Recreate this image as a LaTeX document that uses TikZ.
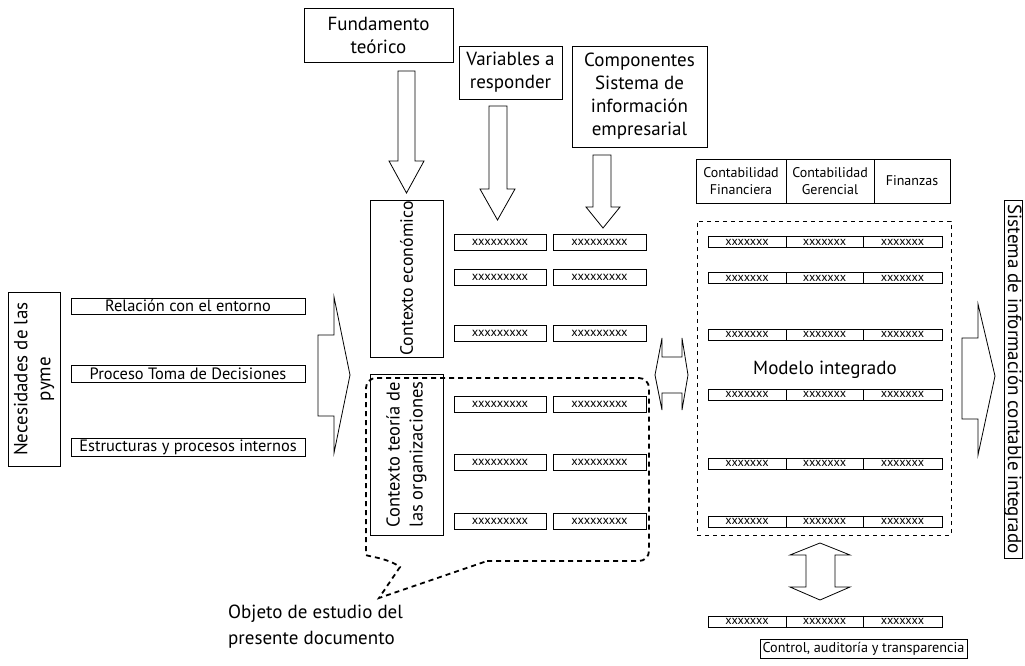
\documentclass[tikz,border=0pt]{standalone}
\usepackage{fontspec}
\setmainfont{PT Sans}
\begin{document}
\begin{tikzpicture}[x=1pt,y=-1pt,
  lbl/.style={draw, line width=0.8pt, align=center, inner sep=0pt, font=\fontsize{19}{23}\selectfont},
  sublbl/.style={draw, line width=0.8pt, align=center, inner sep=0pt, font=\fontsize{16.4}{18}\selectfont},
  hcell/.style={draw, line width=0.8pt, align=center, inner sep=0pt, minimum height=44, font=\fontsize{14}{17}\selectfont},
  lcell/.style={draw, line width=0.8pt, inner sep=0pt, minimum height=16, font=\fontsize{12.5}{12}\selectfont},
  rcell/.style={draw, line width=0.8pt, inner sep=0pt, minimum height=11, font=\fontsize{12.3}{10}\selectfont},
  barrow/.style={draw, line width=0.8pt, fill=white, line join=miter},
  callout/.style={draw, line width=1.8pt, dash pattern=on 5pt off 4pt},
  thindash/.style={draw, line width=0.8pt, dash pattern=on 4pt off 4pt}
]
\useasboundingbox (0,0) rectangle (1025,665);

% left side
\node[lbl, rotate=90, minimum width=174, minimum height=52] (nec) at (34,379) {Necesidades de las\\pyme};
\node[sublbl, minimum width=234, minimum height=16] (rel) at (188,306) {Relación con el entorno};
\node[sublbl, minimum width=234, minimum height=17] (proc) at (188,373.5) {Proceso Toma de Decisiones};
\node[sublbl, minimum width=234, minimum height=18] (estr) at (188,447) {Estructuras y procesos internos};
\draw[barrow] (318,335) -- (334,335) -- (334,297) -- (350,375) -- (334,453) -- (334,416) -- (318,416) -- cycle;

% top labels
\node[lbl, minimum width=149, minimum height=54] (fund) at (378.5,35) {Fundamento\\teórico};
\node[lbl, minimum width=103, minimum height=53] (var) at (510.5,72.5) {Variables a\\responder};
\node[lbl, minimum width=135, minimum height=101] (comp) at (639.5,96.5) {Componentes\\Sistema de\\información\\empresarial};
\draw[barrow] (398,71) -- (415,71) -- (415,161) -- (424,161) -- (406.5,193) -- (389,161) -- (398,161) -- cycle;
\draw[barrow] (489,106) -- (507,106) -- (507,189) -- (515,189) -- (497.5,220) -- (480,189) -- (489,189) -- cycle;
\draw[barrow] (593,155) -- (611,155) -- (611,207) -- (620,207) -- (603,228) -- (586,207) -- (593,207) -- cycle;

% contexts
\node[lbl, rotate=90, minimum width=157, minimum height=73, font=\fontsize{17.8}{23}\selectfont] (ceco) at (406.5,278.5) {Contexto económico};
\node[lbl, rotate=90, minimum width=161, minimum height=73, font=\fontsize{18.5}{23}\selectfont] (corg) at (406.5,454.5) {Contexto teoría de\\las organizaciones};

\foreach \y [count=\i] in {242,277,333.5,404,462.5,521} {
  \node[lcell, minimum width=92] (la\i) at (500,\y) {xxxxxxxxx};
  \node[lcell, minimum width=93] (lb\i) at (599.5,\y) {xxxxxxxxx};
}

% callout
\draw[callout] (487,561) [rounded corners=10pt] -- (649,561) -- (649,378) -- (366,378) -- (366,545) [sharp corners] .. controls (366,556) and (388,558) .. (400,567) -- (379,598) -- cycle;
\node[anchor=north west, align=left, inner sep=0pt, font=\fontsize{19}{26}\selectfont] (obj) at (228,605) {Objeto de estudio del\\presente documento};

% horizontal double arrow
\draw[barrow] (655,375) -- (662,338) -- (662,357) -- (682,357) -- (682,338) -- (688,375) -- (682,410) -- (682,393) -- (662,393) -- (662,410) -- cycle;

% model
\node[hcell, minimum width=90] (h1) at (741,181) {Contabilidad\\Financiera};
\node[hcell, minimum width=88] (h2) at (830,181) {Contabilidad\\Gerencial};
\node[hcell, minimum width=76] (h3) at (912,181) {Finanzas};
\node[thindash, minimum width=254, minimum height=314, inner sep=0pt] (mbox) at (824,378) {};
\foreach \y [count=\i] in {242,278,334.5,394.5,463.5,521.5,621.5} {
  \node[rcell, minimum width=78] (ra\i) at (747,\y) {xxxxxxx};
  \node[rcell, minimum width=77] (rb\i) at (824.5,\y) {xxxxxxx};
  \node[rcell, minimum width=79] (rc\i) at (902.5,\y) {xxxxxxx};
}
\node[font=\fontsize{19}{23}\selectfont, inner sep=0pt] (modelo) at (825,370) {Modelo integrado};

% vertical double arrow
\draw[barrow] (820,543) -- (850,555) -- (835,555) -- (835,587) -- (850,587) -- (820,600) -- (790,587) -- (806,587) -- (806,555) -- (790,555) -- cycle;

\node[sublbl, minimum width=207, minimum height=19, font=\fontsize{14.2}{18}\selectfont] (ctrl) at (863.5,648.5) {Control, auditoría y transparencia};

% right arrow and output
\draw[barrow] (962,338) -- (978,338) -- (978,304) -- (995,376) -- (978,455) -- (978,419) -- (962,419) -- cycle;
\node[lbl, rotate=-90, minimum width=358, minimum height=18] (sis) at (1013,379) {Sistema de información contable integrado};
\end{tikzpicture}
\end{document}
